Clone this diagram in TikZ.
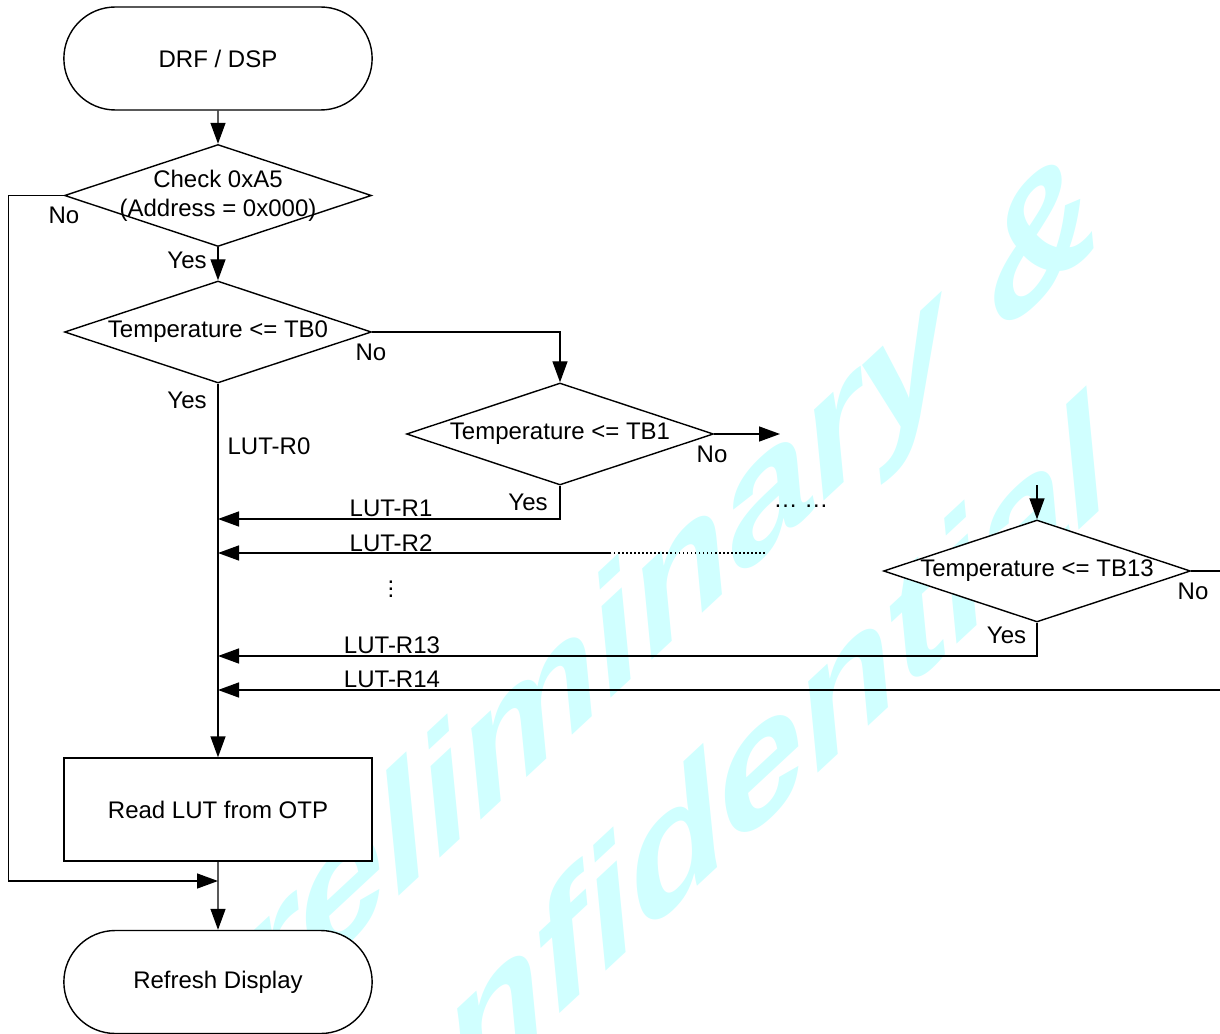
\documentclass[tikz,border=0pt]{standalone}
\usepackage{fontspec}
\setmainfont{Liberation Sans}
\usetikzlibrary{shapes.geometric, shapes.misc, arrows.meta}
\definecolor{wmcyan}{RGB}{208,255,255}

\begin{document}
\begin{tikzpicture}[
        font=\fontsize{13.66}{16.5}\selectfont,
        line width=0.8pt,
        term/.style={draw, fill=white, rounded rectangle, minimum width=6.4cm, minimum height=2.06cm},
        proc/.style={draw, fill=white, minimum width=6.16cm, minimum height=2.06cm},
        decision/.style={draw, fill=white, diamond, aspect=3, inner sep=0pt, minimum width=6.14cm, minimum height=2.04cm},
        arr/.style={-{Triangle[length=0.42cm, width=0.3cm]}},
        dots/.style={dash pattern=on 0.9pt off 1.4pt},
        wmark/.style={text=wmcyan, font=\fontsize{83.6}{100}\selectfont\bfseries\itshape, anchor=base west, inner sep=0pt, cm={1,0.93,-0.31,1,(0,0)}}
    ]
        \useasboundingbox (0,0) rectangle (24.4,-20.68);
        \clip (0,0) rectangle (24.4,-20.68);

        % Watermark
        \node[wmark] (wmA) at (3.18, -22.38) {Preliminary \&};
        \node[wmark] (wmB) at (5.36, -25.7) {Confidential};

        % Main column
        \node[term] (drf) at (4.36, -1.17) {DRF / DSP};
        \node[decision] (chk) at (4.36, -3.91) {};
        \node[align=center] (chkT) at (chk) {Check 0xA5\\(Address = 0x000)};
        \node[decision] (tb0) at (4.36, -6.64) {Temperature <= TB0};
        \node[proc] (otp) at (4.36, -16.19) {Read LUT from OTP};
        \node[term] (disp) at (4.36, -19.64) {Refresh Display};

        % Other temperature checks
        \node[decision] (tb1) at (11.2, -8.68) {Temperature <= TB1};
        \node[decision] (tb13) at (20.74, -11.42) {Temperature <= TB13};

        % Points on the main column
        \coordinate (r1) at (4.36, -10.38);
        \coordinate (r2) at (4.36, -11.06);
        \coordinate (r13) at (4.36, -13.12);
        \coordinate (r14) at (4.36, -13.8);
        \coordinate (join) at (4.36, -17.62);
        % Free ends
        \coordinate (tb1out) at (15.6, -8.68);
        \coordinate (r2mid) at (12.2, -11.06);
        \coordinate (r2end) at (15.3, -11.06);
        \coordinate (tb13in) at (20.74, -9.7);
        \coordinate (tb13out) at (24.4, -11.42);
        \coordinate (r14end) at (24.4, -13.8);

        \draw[arr] (drf) -- (chk);
        \draw[arr] (chk) -- (tb0);
        \draw[arr] (chk.west) -- ++(-1.1,0) |- (join);
        \draw[arr] (tb0) -- (otp);
        \draw[arr] (otp) -- (disp);
        \draw[arr] (tb0.east) -| (tb1.north);
        \draw[arr] (tb1.east) -- (tb1out);
        \draw[arr] (tb1.south) |- (r1);
        \draw[arr] (r2mid) -- (r2);
        \draw[dots] (r2end) -- (r2mid);
        \draw[arr] (tb13in) -- (tb13.north);
        \draw (tb13.east) -- (tb13out);
        \draw[arr] (tb13.south) |- (r13);
        \draw[arr] (r14end) -- (r14);

        % Labels
        \node (noChk) at (1.28, -4.3) {No};
        \node (yesChk) at (3.74, -5.2) {Yes};
        \node (noTb0) at (7.42, -7.04) {No};
        \node (yesTb0) at (3.74, -8.0) {Yes};
        \node (lutR0) at (5.38, -8.92) {LUT-R0};
        \node (yesTb1) at (10.56, -10.04) {Yes};
        \node (noTb1) at (14.24, -9.08) {No};
        \node (lutR1) at (7.82, -10.16) {LUT-R1};
        \node (lutR2) at (7.82, -10.86) {LUT-R2};
        \node (vdot) at (7.82, -11.68) {$\vdots$};
        \node[anchor=base] (more) at (16.02, -10.14) {… …};
        \node (yesTb13) at (20.13, -12.7) {Yes};
        \node (noTb13) at (23.86, -11.83) {No};
        \node (lutR13) at (7.84, -12.9) {LUT-R13};
        \node (lutR14) at (7.84, -13.58) {LUT-R14};
    \end{tikzpicture}
\end{document}
